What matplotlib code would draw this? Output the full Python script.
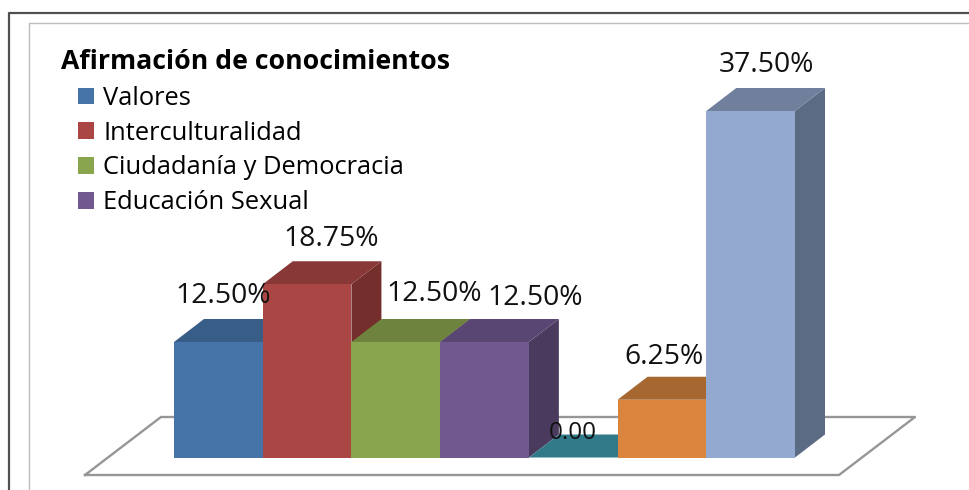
import matplotlib
matplotlib.use('Agg')
import matplotlib.pyplot as plt
from matplotlib.patches import Polygon

categories = ['Valores', 'Interculturalidad', 'Ciudadanía y Democracia', 'Educación Sexual', '', '', '']
values = [12.5, 18.75, 12.5, 12.5, 0.0, 6.25, 37.5]
value_labels = ['12.50%', '18.75%', '12.50%', '12.50%', '0.00', '6.25%', '37.50%']

front_colors = ['#4674A8', '#AA4643', '#89A54E', '#71588F', '#317A8A', '#DB843D', '#93A9CF']
top_colors = ['#385D87', '#883836', '#6E843E', '#5A4672', '#317A8A', '#A66830', '#6F7F9C']
side_colors = ['#2F4F73', '#742F2D', '#5D7035', '#4A3A5E', '#2A6774', '#8E5829', '#5C6B84']

# label offsets from the top of each bar, in pixels
label_dx = [5, 24, 38, 51, 0, 2, 16]
label_dy = [46, 45, 48, 44, 25, 43, 46]
label_sizes = [20.3, 20.3, 20.3, 20.3, 17.5, 20.3, 20.3]

plt.rcParams['font.family'] = ['Open Sans', 'DejaVu Sans']

fig = plt.figure(figsize=(9.7, 4.9), dpi=100)

# frame and floor, in pixel coordinates
bg = fig.add_axes([0, 0, 1, 1])
bg.set_xlim(0, 970)
bg.set_ylim(490, 0)
bg.axis('off')
bg.plot([9.5, 9.5, 970], [490, 13, 13], color='#505050', lw=1.6)
bg.plot([29, 29, 970], [490, 23.5, 23.5], color='#BDBDBD', lw=1.0)
bg.plot([85, 161, 915, 839, 85], [475, 417, 417, 475, 475], color='#969696', lw=1.7)

# bars
ax = fig.add_axes([174 / 970, (490 - 457.5) / 490, 621 / 970, 346.5 / 490])
ax.set_xlim(-0.5, 6.5)
ax.set_ylim(0, 37.5)
ax.axis('off')
ax.patch.set_alpha(0)

width = 1.0
depth_x = 30 / (621 / 7)
depth_y = 23 / (346.5 / 37.5)

for i, v in enumerate(values):
    l = i - width / 2
    r = i + width / 2
    ax.add_patch(Polygon([(r, 0), (r + depth_x, depth_y), (r + depth_x, v + depth_y), (r, v)],
                         closed=True, facecolor=side_colors[i], edgecolor='none',
                         clip_on=False, zorder=2 + i))
    ax.add_patch(Polygon([(l, v), (l + depth_x, v + depth_y), (r + depth_x, v + depth_y), (r, v)],
                         closed=True, facecolor=top_colors[i], edgecolor='none',
                         clip_on=False, zorder=2 + i))
    ax.bar(i, v, width=width, color=front_colors[i], label=categories[i] if categories[i] else '_nolegend_',
           clip_on=False, zorder=2 + i)

for i, v in enumerate(values):
    ax.annotate(value_labels[i], (i, v), xytext=(label_dx[i], label_dy[i]), textcoords='offset pixels',
                ha='center', va='center', fontsize=label_sizes[i], color='#111111', zorder=20,
                annotation_clip=False)

leg = ax.legend(loc='upper left',
                bbox_to_anchor=(78 / 970, 1 - 86 / 490), bbox_transform=fig.transFigure,
                frameon=False, fontsize=18.4, handlelength=0.63, handleheight=0.63,
                handletextpad=0.36, labelspacing=0.38, borderaxespad=0, borderpad=0)
leg.set_zorder(30)

fig.text(61 / 970, 1 - 62 / 490, 'Afirmación de conocimientos', fontsize=19.2, fontweight='bold',
         ha='left', va='center', color='black')

fig.savefig('out.png', dpi=100)
